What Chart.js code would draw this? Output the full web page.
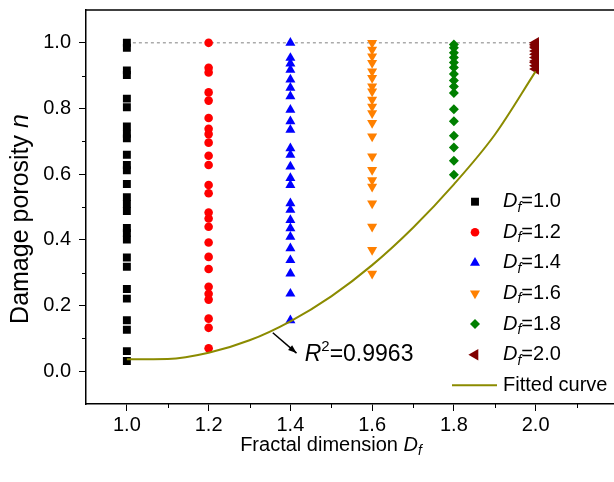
<!DOCTYPE html>
<html>
<head>
<meta charset="utf-8">
<script src="https://cdn.jsdelivr.net/npm/chart.js@4.4.0/dist/chart.umd.min.js"></script>
<style>
body{margin:0;overflow:hidden;background:#fff}
</style>
</head>
<body>
<canvas id="myChart" width="624" height="482"></canvas>
<script>
// fractal dimension of each group
var dfValues=[1.0,1.2,1.4,1.6,1.8,2.0]

// damage porosity n
var nDf10=[1.0,0.985,0.916,0.902,0.830,0.804,0.745,0.723,0.709,0.659,0.628,0.612,0.570,0.530,0.509,0.488,0.436,0.421,0.401,0.346,0.318,0.250,0.221,0.155,0.126,0.061,0.031]
var nDf12=[1.0,0.924,0.910,0.849,0.824,0.771,0.738,0.722,0.696,0.656,0.628,0.567,0.542,0.483,0.465,0.440,0.392,0.348,0.311,0.257,0.236,0.218,0.160,0.132,0.070]
var nDf14=[1.0,0.954,0.937,0.918,0.888,0.863,0.837,0.796,0.761,0.735,0.679,0.659,0.623,0.588,0.567,0.511,0.491,0.460,0.435,0.409,0.374,0.338,0.297,0.236,0.155]
var nDf16=[1.0,0.979,0.959,0.939,0.913,0.893,0.867,0.852,0.827,0.806,0.786,0.756,0.715,0.654,0.613,0.582,0.562,0.511,0.440,0.369,0.297]
var nDf18=[0.995,0.985,0.970,0.955,0.940,0.925,0.905,0.885,0.867,0.847,0.798,0.761,0.717,0.681,0.641,0.598]
var nDf20=[1.0,0.995,0.990,0.985,0.975,0.965,0.955,0.945,0.940,0.930,0.920]

// fitted curve, read at 0.1 steps
var fitX=[1.0,1.1,1.2,1.3,1.4,1.5,1.6,1.7,1.8,1.9,2.0]
var fitY=[0.036,0.037,0.056,0.094,0.152,0.228,0.323,0.437,0.569,0.720,0.913]

// dotted n=1 reference line
var refX=[1.0,2.0]
var refY=[1.0,1.0]

var xTickVals=[1.0,1.2,1.4,1.6,1.8,2.0,2.2]
var xMinorVals=[1.1,1.3,1.5,1.7,1.9,2.1]
var yTickVals=[0.0,0.2,0.4,0.6,0.8,1.0]
var yMinorVals=[0.1,0.3,0.5,0.7,0.9]

var r2Text='=0.9963'

var seriesN=[nDf10,nDf12,nDf14,nDf16,nDf18,nDf20]
var seriesColors=['#000000','#ff0000','#0000ff','#ff8000','#008000','#800000']
var seriesStyles=['rect','circle','triangle','triangle','rectRot','triangle']
var seriesRot=[0,0,0,180,0,270]
var seriesRadius=[5.6,4.3,5.8,5.8,5,6.6]

var FONT='"Liberation Sans", Arial, sans-serif'

var datasets=[]
datasets.push({
    label:'Fitted curve',
    data:fitX.map(function(x,i){return {x:x,y:fitY[i]}}),
    showLine:true,
    borderColor:'#8b8b00',
    borderWidth:2,
    pointRadius:0,
    tension:0.4,
    cubicInterpolationMode:'monotone'
})
for(var i=0;i<dfValues.length;i++){
    datasets.push({
        label:'Df='+dfValues[i].toFixed(1),
        data:seriesN[i].map(function(v){return {x:dfValues[i],y:v}}),
        backgroundColor:seriesColors[i],
        borderColor:seriesColors[i],
        borderWidth:0,
        pointStyle:seriesStyles[i],
        rotation:seriesRot[i],
        pointRadius:seriesRadius[i]
    })
}
datasets.push({
    label:'ref',
    data:refX.map(function(x,i){return {x:x,y:refY[i]}}),
    showLine:true,
    borderColor:'#808080',
    borderWidth:1,
    borderDash:[3,3],
    pointRadius:0
})

function richText(ctx,parts,x,y,align){
    var w=0
    parts.forEach(function(p){ctx.font=p.font;w+=ctx.measureText(p.t).width})
    var cx=align==='center'?x-w/2:x
    parts.forEach(function(p){
        ctx.font=p.font
        ctx.fillText(p.t,cx,y+(p.dy||0))
        cx+=ctx.measureText(p.t).width
    })
}

var decor={
    id:'decor',
    afterDraw:function(chart){
        var ctx=chart.ctx
        var xs=chart.scales.x
        var ys=chart.scales.y
        var a=chart.chartArea
        ctx.save()
        ctx.strokeStyle='#000'
        ctx.fillStyle='#000'
        // top frame line
        ctx.lineWidth=1.5
        ctx.beginPath()
        ctx.moveTo(a.left,a.top)
        ctx.lineTo(a.right,a.top)
        ctx.stroke()
        // minor ticks
        ctx.lineWidth=1
        xMinorVals.forEach(function(v){
            var px=Math.round(xs.getPixelForValue(v))+0.5
            ctx.beginPath();ctx.moveTo(px,a.bottom);ctx.lineTo(px,a.bottom+4);ctx.stroke()
        })
        yMinorVals.forEach(function(v){
            var py=Math.round(ys.getPixelForValue(v))+0.5
            ctx.beginPath();ctx.moveTo(a.left,py);ctx.lineTo(a.left-4,py);ctx.stroke()
        })

        ctx.textBaseline='middle'
        ctx.textAlign='left'
        // axis titles
        richText(ctx,[
            {t:'Fractal dimension ',font:'20px '+FONT},
            {t:'D',font:'italic 20px '+FONT},
            {t:'f',font:'italic 14px '+FONT,dy:6}
        ],331,445,'center')
        ctx.save()
        ctx.translate(21,219)
        ctx.rotate(-Math.PI/2)
        richText(ctx,[
            {t:'Damage porosity ',font:'25px '+FONT},
            {t:'n',font:'italic 25px '+FONT}
        ],0,0,'center')
        ctx.restore()

        // legend
        var lx=a.left+389, tx=a.left+417, ly=201.7, step=30.6
        for(var k=0;k<dfValues.length;k++){
            var ds=chart.data.datasets[k+1]
            ctx.fillStyle=ds.backgroundColor
            ctx.strokeStyle=ds.borderColor
            Chart.helpers.drawPoint(ctx,{pointStyle:ds.pointStyle,rotation:ds.rotation,radius:ds.pointRadius,borderWidth:0},lx,ly+k*step)
            ctx.fillStyle='#000'
            richText(ctx,[
                {t:'D',font:'italic 20px '+FONT},
                {t:'f',font:'italic 14px '+FONT,dy:6},
                {t:'='+dfValues[k].toFixed(1),font:'20px '+FONT}
            ],tx,ly+k*step)
        }
        var fy=ly+6*step
        ctx.strokeStyle='#8b8b00'
        ctx.lineWidth=2
        ctx.beginPath();ctx.moveTo(a.left+366,fy);ctx.lineTo(a.left+411,fy);ctx.stroke()
        ctx.fillStyle='#000'
        ctx.font='20px '+FONT
        ctx.fillText('Fitted curve',tx,fy)

        // R2 annotation with arrow
        var x0=xs.getPixelForValue(1.357), y0=ys.getPixelForValue(0.117)
        var x1=xs.getPixelForValue(1.415), y1=ys.getPixelForValue(0.055)
        ctx.strokeStyle='#000'
        ctx.lineWidth=1.5
        ctx.beginPath();ctx.moveTo(x0,y0);ctx.lineTo(x1,y1);ctx.stroke()
        var ang=Math.atan2(y1-y0,x1-x0)
        ctx.beginPath()
        ctx.moveTo(x1,y1)
        ctx.lineTo(x1-9*Math.cos(ang-0.35),y1-9*Math.sin(ang-0.35))
        ctx.lineTo(x1-9*Math.cos(ang+0.35),y1-9*Math.sin(ang+0.35))
        ctx.closePath()
        ctx.fill()
        richText(ctx,[
            {t:'R',font:'italic 23px '+FONT},
            {t:'2',font:'15px '+FONT,dy:-8},
            {t:r2Text,font:'23px '+FONT}
        ],xs.getPixelForValue(1.435),ys.getPixelForValue(0.049))
        ctx.restore()
    }
}

var myChart=document.getElementById('myChart').getContext('2d')
var chart=new Chart(myChart,{
    type:'scatter',
    data:{datasets:datasets},
    options:{
        responsive:false,
        animation:false,
        layout:{padding:{top:10,right:2,left:0,bottom:0}},
        plugins:{legend:{display:false},tooltip:{enabled:false}},
        scales:{
            x:{
                type:'linear',
                min:0.9,
                max:2.2,
                afterFit:function(s){s.height=78;s.paddingLeft=0;s.paddingRight=0},
                afterBuildTicks:function(s){s.ticks=xTickVals.map(function(v){return {value:v}})},
                border:{display:true,color:'#000',width:1.5},
                grid:{display:true,drawOnChartArea:false,drawTicks:true,tickLength:7,color:'#000',lineWidth:1},
                ticks:{
                    autoSkip:false,
                    maxRotation:0,
                    padding:2,
                    color:'#000',
                    font:{family:FONT,size:20},
                    callback:function(v){return v>2.1?'':v.toFixed(1)}
                }
            },
            y:{
                type:'linear',
                min:-0.1,
                max:1.1,
                afterFit:function(s){s.width=86;s.paddingTop=0;s.paddingBottom=0},
                afterBuildTicks:function(s){s.ticks=yTickVals.map(function(v){return {value:v}})},
                border:{display:true,color:'#000',width:1.5},
                grid:{display:true,drawOnChartArea:false,drawTicks:true,tickLength:7,color:'#000',lineWidth:1},
                ticks:{
                    autoSkip:false,
                    padding:8,
                    color:'#000',
                    font:{family:FONT,size:20},
                    callback:function(v){return v.toFixed(1)}
                }
            }
        }
    },
    plugins:[decor]
})
</script>
</body>
</html>
